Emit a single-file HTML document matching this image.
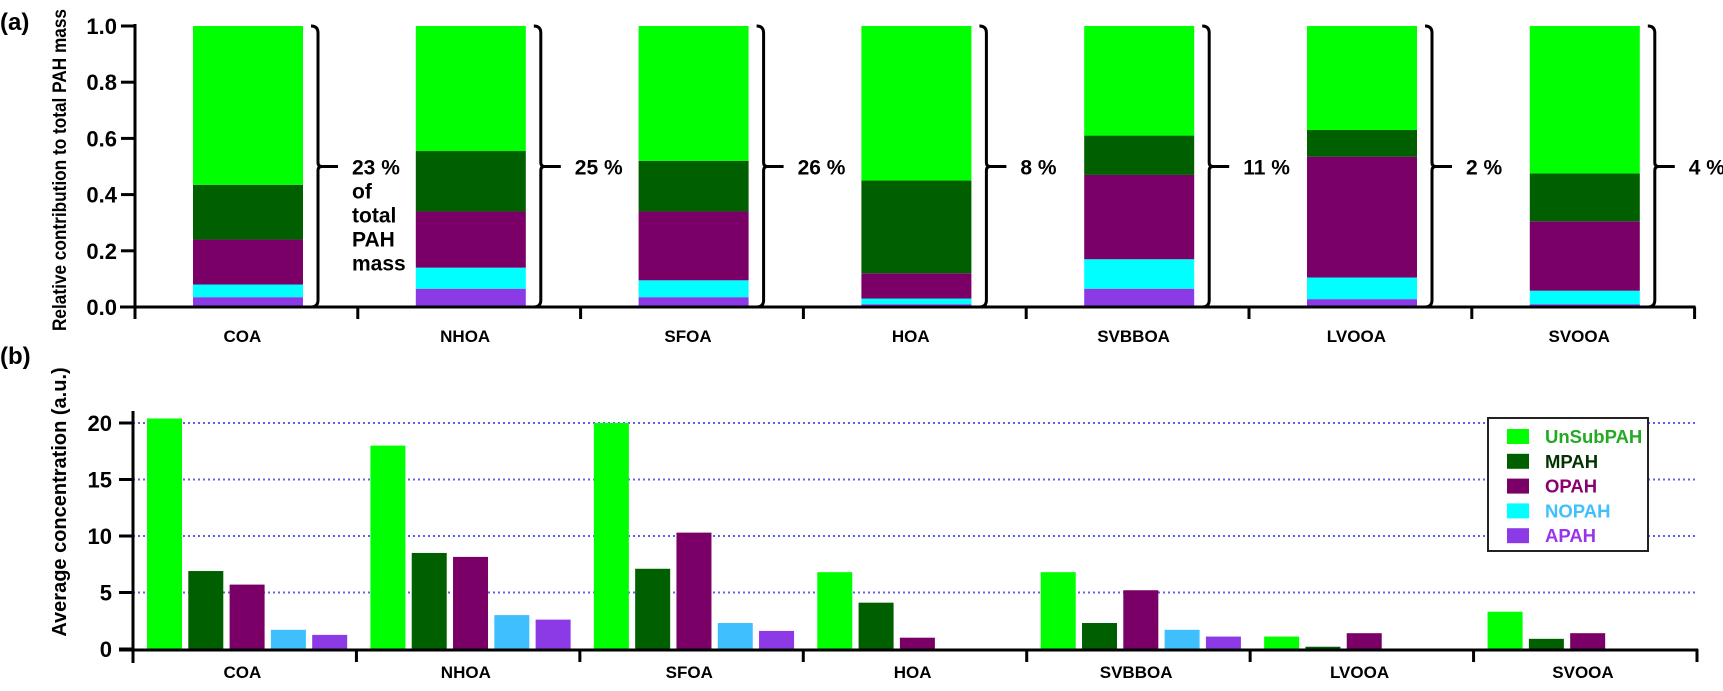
<!DOCTYPE html>
<html><head><meta charset="utf-8"><style>
html,body{margin:0;padding:0;background:#fff;}
svg{display:block;font-family:"Liberation Sans",Arial,sans-serif;font-weight:bold;}
</style></head><body>
<svg id="chart" width="1723" height="691" viewBox="0 0 1723 691" xmlns="http://www.w3.org/2000/svg">
<g id="top"></g>
<g id="bot"></g>
</svg>
<script>
const categories = ["COA","NHOA","SFOA","HOA","SVBBOA","LVOOA","SVOOA"];
const seriesNames = ["UnSubPAH","MPAH","OPAH","NOPAH","APAH"];
const seriesColors = ["#00ff00","#006000","#7a0068","#00ffff","#8c3ae6"];
const barColorsB = ["#00ff00","#006000","#7a0068","#40bfff","#8c3ae6"];
const legendTextColors = ["#22aa22","#003300","#8a0070","#40bfff","#9933ee"];
// Panel (a): fractions, stacked bottom-up: APAH, NOPAH, OPAH, MPAH, UnSubPAH
const fracAPAH =  [0.035,0.065,0.035,0.010,0.065,0.028,0.010];
const fracNOPAH = [0.045,0.075,0.060,0.020,0.105,0.077,0.048];
const fracOPAH =  [0.160,0.200,0.245,0.090,0.300,0.430,0.247];
const fracMPAH =  [0.195,0.215,0.180,0.330,0.140,0.095,0.170];
const fracUnSub = [0.565,0.445,0.480,0.550,0.390,0.370,0.525];
const shareLabels = ["23 %","25 %","26 %","8 %","11 %","2 %","4 %"];
const ticksA = [0,0.2,0.4,0.6,0.8,1.0];
const tickLabelsA = ["0.0","0.2","0.4","0.6","0.8","1.0"];
// Panel (b): average concentrations
const concUnSub = [20.4,18.0,20.0,6.8,6.8,1.1,3.3];
const concMPAH =  [6.9,8.5,7.1,4.1,2.3,0.2,0.9];
const concOPAH =  [5.7,8.15,10.3,1.0,5.2,1.4,1.4];
const concNOPAH = [1.7,3.0,2.3,0,1.7,0,0];
const concAPAH =  [1.25,2.6,1.6,0,1.1,0,0];
const ticksB = [0,5,10,15,20];
const tickLabelsB = ["0","5","10","15","20"];

const NS="http://www.w3.org/2000/svg";
function mk(parent,tag,attrs,text){const e=document.createElementNS(NS,tag);for(const k in attrs)e.setAttribute(k,attrs[k]);if(text!==undefined)e.textContent=text;parent.appendChild(e);return e;}

const catW=222.8;
// ===== Panel A =====
const A=document.getElementById('top');
const ax0=135, ay0=307, ay1=26;
const yA=v=>ay0-(ay0-ay1)*v;
const xCatA=i=>ax0+i*catW;
let t;
t=mk(A,'text',{x:0,y:30,'font-size':24});t.textContent="(a)";


t=mk(A,'text',{x:0,y:0,'font-size':19,'text-anchor':'middle',textLength:322,lengthAdjust:'spacingAndGlyphs',transform:'translate(66,170) rotate(-90)'},"Relative contribution to total PAH mass");


const stacksA=[fracAPAH,fracNOPAH,fracOPAH,fracMPAH,fracUnSub];
const stackColors=[seriesColors[4],seriesColors[3],seriesColors[2],seriesColors[1],seriesColors[0]];
categories.forEach((c,i)=>{
  let cum=0;
  const bx=xCatA(i)+58, bw=110;
  stacksA.forEach((arr,s)=>{
    const r=mk(A,'rect',{x:bx,y:yA(cum+arr[i]),width:bw,height:yA(cum)-yA(cum+arr[i]),fill:stackColors[s]});
    
    
    cum+=arr[i];
  });
  const brx=bx+bw+15, mid=(yA(0)+yA(1))/2;
  const br=mk(A,'path',{d:`M${brx-7},${yA(1)} Q${brx},${yA(1)} ${brx},${yA(1)+7} L${brx},${mid-4} Q${brx},${mid} ${brx+4},${mid} L${brx+20},${mid} M${brx+4},${mid} Q${brx},${mid} ${brx},${mid+4} L${brx},${yA(0)-7} Q${brx},${yA(0)} ${brx-7},${yA(0)}`,fill:'none',stroke:'#000','stroke-width':3});
  
  
  const tl=mk(A,'text',{x:brx+34,y:mid+8,'font-size':21},shareLabels[i]);
  
  
  if(i===0){["of","total","PAH","mass"].forEach((w,k)=>{const e=mk(A,'text',{x:brx+34,y:mid+32+k*24,'font-size':21},w);});}
  const cl=mk(A,'text',{x:xCatA(i)+catW/2-4,y:342,'font-size':17,'text-anchor':'middle'},c);
  
  
  mk(A,'line',{x1:xCatA(i+1),y1:ay0,x2:xCatA(i+1),y2:319,stroke:'#000','stroke-width':3});
});
mk(A,'line',{x1:ax0,y1:ay1-2,x2:ax0,y2:319,stroke:'#000','stroke-width':3});
mk(A,'line',{x1:120,y1:ay0,x2:xCatA(7)+1,y2:ay0,stroke:'#000','stroke-width':3});
ticksA.forEach((v,k)=>{mk(A,'line',{x1:121,y1:yA(v),x2:ax0,y2:yA(v),stroke:'#000','stroke-width':3});
  const e=mk(A,'text',{x:117,y:yA(v)+8,'font-size':22,'text-anchor':'end'},tickLabelsA[k]);
  
  });

// ===== Panel B =====
const B=document.getElementById('bot');
const bx0=133, by0=649, by20=423;
const yB=v=>by0-(by0-by20)*v/20;
const xCatB=i=>bx0+i*(1697-bx0)/7;
t=mk(B,'text',{x:0,y:364,'font-size':24},"(b)");


t=mk(B,'text',{x:0,y:0,'font-size':20,'text-anchor':'middle',transform:'translate(66,502) rotate(-90)'},"Average concentration (a.u.)");


ticksB.slice(1).forEach(v=>{const g=mk(B,'line',{x1:bx0,y1:yB(v),x2:1697,y2:yB(v),stroke:'#6060f0','stroke-width':2,'stroke-dasharray':'2 3'});});
const seriesB=[concUnSub,concMPAH,concOPAH,concNOPAH,concAPAH];
categories.forEach((c,i)=>{
  seriesB.forEach((arr,s)=>{
    if(arr[i]<=0)return;
    const x=xCatB(i)+14+s*41.3;
    const r=mk(B,'rect',{x:x,y:yB(arr[i]),width:35,height:yB(0)-yB(arr[i]),fill:barColorsB[s]});
    
    
  });
  const cl=mk(B,'text',{x:xCatB(i)+catW/2-2,y:678,'font-size':17,'text-anchor':'middle'},c);
  
  
  mk(B,'line',{x1:xCatB(i+1),y1:by0,x2:xCatB(i+1),y2:662,stroke:'#000','stroke-width':3});
});
mk(B,'line',{x1:bx0,y1:411,x2:bx0,y2:663,stroke:'#000','stroke-width':3});
mk(B,'line',{x1:119,y1:by0+1,x2:1698,y2:by0+1,stroke:'#000','stroke-width':3});
ticksB.forEach((v,k)=>{mk(B,'line',{x1:119,y1:yB(v),x2:bx0,y2:yB(v),stroke:'#000','stroke-width':3});
  const e=mk(B,'text',{x:112,y:yB(v)+8,'font-size':22,'text-anchor':'end'},tickLabelsB[k]);
  
  });
// legend
const L=mk(B,'g',{});


mk(L,'rect',{x:1488,y:418,width:160,height:133,fill:'#fff',stroke:'#222','stroke-width':2});
seriesNames.forEach((n,s)=>{
  const y=436+s*24.8;
  mk(L,'rect',{x:1507,y:y-7,width:22,height:15,fill:seriesColors[s]});
  const e=mk(L,'text',{x:1545,y:y+7,'font-size':18.5,fill:legendTextColors[s]},n);
  
  
});
</script>
</body></html>
